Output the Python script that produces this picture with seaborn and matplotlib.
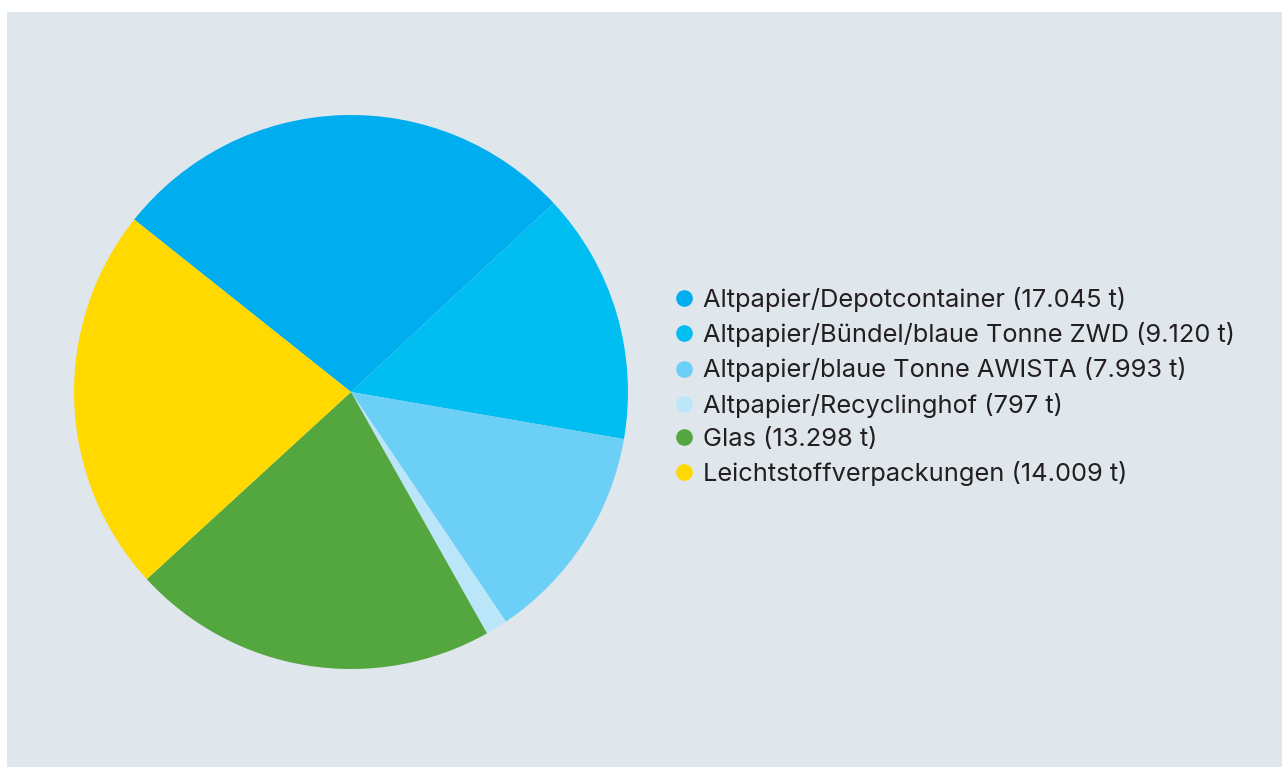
import matplotlib
matplotlib.use("Agg")
import matplotlib.pyplot as plt
from matplotlib.lines import Line2D
from matplotlib.patches import Rectangle
import seaborn as sns

sns.set_theme(style="white")
plt.rcParams["font.family"] = ["Inter", "DejaVu Sans"]

# Daten: Sammelmengen in Tonnen
kategorien = ["Altpapier/Depotcontainer",
              "Altpapier/Bündel/blaue Tonne ZWD",
              "Altpapier/blaue Tonne AWISTA",
              "Altpapier/Recyclinghof",
              "Glas",
              "Leichtstoffverpackungen"]
mengen = [17045, 9120, 7993, 797, 13298, 14009]
mengen_text = ["17.045", "9.120", "7.993", "797", "13.298", "14.009"]
farben = ["#00adee", "#00bdf2", "#6ccff6", "#bbe6fa", "#54a63f", "#ffd900"]

W, H = 1282, 767
fig = plt.figure(figsize=(W / 100, H / 100), dpi=100, facecolor="white")

# hellgrauer Hintergrund mit weißem Rand oben/links
fig.patches.append(Rectangle((7 / W, 0), 1 - 7 / W, 1 - 12 / H,
                             transform=fig.transFigure, facecolor="#dfe6ec",
                             edgecolor="none", zorder=-10))

cx, cy, r = 351, 392, 277
ax = fig.add_axes([(cx - r) / W, (H - cy - r) / H, 2 * r / W, 2 * r / H])
ax.set_facecolor("none")
ax.set_zorder(1)
ax.pie(mengen, colors=farben, startangle=141.5, counterclock=False,
       radius=1, wedgeprops={"linewidth": 0})
ax.set_xlim(-1, 1)
ax.set_ylim(-1, 1)
ax.axis("off")

handles = [Line2D([0], [0], marker="o", linestyle="none", markersize=12,
                  markerfacecolor=c, markeredgewidth=0) for c in farben]
labels = [f"{k} ({m} t)" for k, m in zip(kategorien, mengen_text)]
fig.legend(handles, labels, loc="center left",
           bbox_to_anchor=(676 / W, 1 - 386.5 / H),
           frameon=False, fontsize=18.3, labelspacing=0.4,
           handlelength=0.65, handletextpad=0.4, borderpad=0,
           borderaxespad=0, labelcolor="#231f20")

fig.savefig("out.png", dpi=100, facecolor="white")
